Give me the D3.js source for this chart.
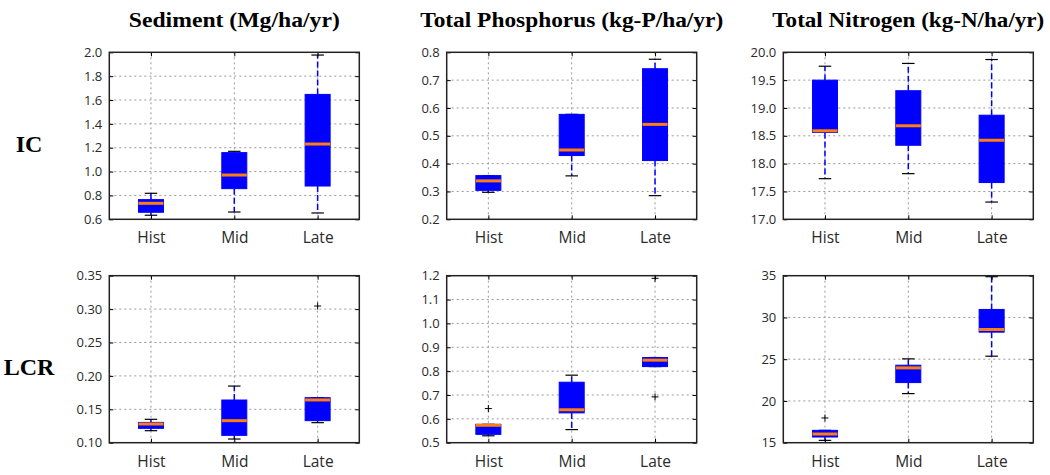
<!DOCTYPE html>
<html>
<head>
<meta charset="utf-8">
<script src="https://cdn.jsdelivr.net/npm/d3@7"></script>
<style>
html,body{margin:0;padding:0;background:#fff;}
svg{display:block;}
</style>
</head>
<body>
<svg id="chart" width="1050" height="475"></svg>
<script>
// ---------- data ----------
const categories = ["Hist", "Mid", "Late"];
const metricTitles = ["Sediment (Mg/ha/yr)", "Total Phosphorus (kg-P/ha/yr)", "Total Nitrogen (kg-N/ha/yr)"];
const regionLabels = ["IC", "LCR"];

// box stats per category: [whiskerLow, q1, median, q3, whiskerHigh]
const sedimentIC = [[0.634, 0.659, 0.734, 0.765, 0.818], [0.661, 0.857, 0.971, 1.159, 1.170], [0.653, 0.879, 1.231, 1.647, 1.977]];
const phosphorusIC = [[0.297, 0.304, 0.338, 0.357, 0.357], [0.356, 0.429, 0.449, 0.577, 0.577], [0.285, 0.411, 0.541, 0.741, 0.775]];
const nitrogenIC = [[17.73, 18.56, 18.59, 19.50, 19.75], [17.82, 18.33, 18.68, 19.31, 19.80], [17.31, 17.66, 18.42, 18.87, 19.87]];
const sedimentLCR = [[0.118, 0.1215, 0.128, 0.1304, 0.135], [0.1055, 0.111, 0.133, 0.1639, 0.1848], [0.130, 0.133, 0.164, 0.1674, 0.1674]];
const phosphorusLCR = [[0.529, 0.535, 0.573, 0.577, 0.577], [0.555, 0.625, 0.638, 0.7535, 0.783], [0.819, 0.819, 0.846, 0.857, 0.857]];
const nitrogenLCR = [[15.28, 15.68, 16.04, 16.48, 16.48], [20.88, 22.2, 23.96, 24.28, 25.04], [25.36, 28.24, 28.56, 30.96, 34.88]];

// outliers per category
const sedimentICOut = [[], [], []];
const phosphorusICOut = [[], [], []];
const nitrogenICOut = [[], [], []];
const sedimentLCROut = [[], [], [0.3046]];
const phosphorusLCROut = [[0.643], [], [1.189, 0.692]];
const nitrogenLCROut = [[17.96], [], []];

// tick values
const sedimentICTicks = [0.6, 0.8, 1.0, 1.2, 1.4, 1.6, 1.8, 2.0];
const phosphorusICTicks = [0.2, 0.3, 0.4, 0.5, 0.6, 0.7, 0.8];
const nitrogenICTicks = [17.0, 17.5, 18.0, 18.5, 19.0, 19.5, 20.0];
const sedimentLCRTicks = [0.10, 0.15, 0.20, 0.25, 0.30, 0.35];
const phosphorusLCRTicks = [0.5, 0.6, 0.7, 0.8, 0.9, 1.0, 1.1, 1.2];
const nitrogenLCRTicks = [15, 20, 25, 30, 35];

// ---------- layout ----------
const panelLefts = [109.3, 446.7, 783.3];
const panelTops = [52.3, 275.7];
const pw = 250, ph = 167;

const panels = [
  {row: 0, col: 0, stats: sedimentIC, out: sedimentICOut, ticks: sedimentICTicks, fmt: ".1f"},
  {row: 0, col: 1, stats: phosphorusIC, out: phosphorusICOut, ticks: phosphorusICTicks, fmt: ".1f"},
  {row: 0, col: 2, stats: nitrogenIC, out: nitrogenICOut, ticks: nitrogenICTicks, fmt: ".1f"},
  {row: 1, col: 0, stats: sedimentLCR, out: sedimentLCROut, ticks: sedimentLCRTicks, fmt: ".2f"},
  {row: 1, col: 1, stats: phosphorusLCR, out: phosphorusLCROut, ticks: phosphorusLCRTicks, fmt: ".1f"},
  {row: 1, col: 2, stats: nitrogenLCR, out: nitrogenLCROut, ticks: nitrogenLCRTicks, fmt: "d"}
];

const svg = d3.select("#chart");
const tickFont = "'Open Sans', 'Noto Sans', sans-serif";
const titleWidths = [211, 303, 272];

// column titles
metricTitles.forEach((t, i) => {
  svg.append("text")
    .attr("x", panelLefts[i] + pw / 2)
    .attr("y", 27)
    .attr("text-anchor", "middle")
    .attr("font-family", "'Liberation Serif', 'Times New Roman', serif")
    .attr("font-weight", "bold")
    .attr("font-size", 22)
    .attr("textLength", titleWidths[i])
    .attr("lengthAdjust", "spacingAndGlyphs")
    .attr("fill", "#000")
    .text(t);
});

// row labels
regionLabels.forEach((t, i) => {
  svg.append("text")
    .attr("x", 29)
    .attr("y", panelTops[i] + ph / 2 + 16)
    .attr("text-anchor", "middle")
    .attr("font-family", "'Liberation Serif', 'Times New Roman', serif")
    .attr("font-weight", "bold")
    .attr("font-size", 24)
    .attr("fill", "#000")
    .text(t);
});

panels.forEach(p => {
  const x0 = panelLefts[p.col], y0 = panelTops[p.row];
  const g = svg.append("g").attr("transform", `translate(${x0},${y0})`);
  const x = d3.scaleLinear().domain([0.5, 3.5]).range([0, pw]);
  const y = d3.scaleLinear().domain([p.ticks[0], p.ticks[p.ticks.length - 1]]).range([ph, 0]);
  const boxW = x(0.3) - x(0);
  const capW = boxW / 2;

  // grid
  g.append("g").selectAll("line").data(p.ticks.slice(1, -1)).join("line")
    .attr("x1", 0).attr("x2", pw)
    .attr("y1", d => y(d)).attr("y2", d => y(d))
    .attr("stroke", "#999").attr("stroke-width", 1).attr("stroke-dasharray", "2,3");
  g.append("g").selectAll("line").data([1, 2, 3]).join("line")
    .attr("x1", d => x(d)).attr("x2", d => x(d))
    .attr("y1", 0).attr("y2", ph)
    .attr("stroke", "#999").attr("stroke-width", 1).attr("stroke-dasharray", "2,3");

  // boxes
  p.stats.forEach((s, i) => {
    const cx = x(i + 1);
    const [lo, q1, med, q3, hi] = s;
    // whiskers
    g.append("line").attr("x1", cx).attr("x2", cx).attr("y1", y(q3)).attr("y2", y(hi))
      .attr("stroke", "#0000ff").attr("stroke-width", 1.5).attr("stroke-dasharray", "6,3");
    g.append("line").attr("x1", cx).attr("x2", cx).attr("y1", y(q1)).attr("y2", y(lo))
      .attr("stroke", "#0000ff").attr("stroke-width", 1.5).attr("stroke-dasharray", "6,3");
    // caps
    [lo, hi].forEach(v => {
      g.append("line").attr("x1", cx - capW / 2).attr("x2", cx + capW / 2)
        .attr("y1", y(v)).attr("y2", y(v))
        .attr("stroke", "#000").attr("stroke-width", 1.2);
    });
    // box
    g.append("rect").attr("x", cx - boxW / 2).attr("width", boxW)
      .attr("y", y(q3)).attr("height", Math.max(1, y(q1) - y(q3)))
      .attr("fill", "#0000ff").attr("stroke", "#0000ff").attr("stroke-width", 1);
    // median
    g.append("line").attr("x1", cx - boxW / 2).attr("x2", cx + boxW / 2)
      .attr("y1", y(med)).attr("y2", y(med))
      .attr("stroke", "#ff7f0e").attr("stroke-width", 3);
    // outliers
    p.out[i].forEach(v => {
      g.append("path").attr("d", `M${cx - 3.5},${y(v)}H${cx + 3.5}M${cx},${y(v) - 3.5}V${y(v) + 3.5}`)
        .attr("stroke", "#000").attr("stroke-width", 1).attr("fill", "none");
    });
  });

  // axes (inward ticks)
  const fmt = d3.format(p.fmt);
  const left = g.append("g").call(d3.axisLeft(y).tickValues(p.ticks).tickFormat(fmt).tickSize(-4).tickPadding(7));
  const right = g.append("g").attr("transform", `translate(${pw},0)`)
    .call(d3.axisRight(y).tickValues(p.ticks).tickFormat("").tickSize(-4));
  const bottom = g.append("g").attr("transform", `translate(0,${ph})`)
    .call(d3.axisBottom(x).tickValues([1, 2, 3]).tickFormat((d, i) => categories[i]).tickSize(-4).tickPadding(13));
  const top = g.append("g")
    .call(d3.axisTop(x).tickValues([1, 2, 3]).tickFormat("").tickSize(-4));
  [left, right, bottom, top].forEach(a => {
    a.select(".domain").remove();
    a.selectAll(".tick line").attr("stroke", "#000");
  });
  left.selectAll("text").attr("font-family", tickFont).attr("font-size", 13).attr("fill", "#2a2a2a");
  bottom.selectAll("text").attr("font-family", tickFont).attr("font-size", 15.5).attr("fill", "#2a2a2a");

  // frame
  g.append("rect").attr("x", 0).attr("y", 0).attr("width", pw).attr("height", ph)
    .attr("fill", "none").attr("stroke", "#222").attr("stroke-width", 1.5);
});
</script>
</body>
</html>
